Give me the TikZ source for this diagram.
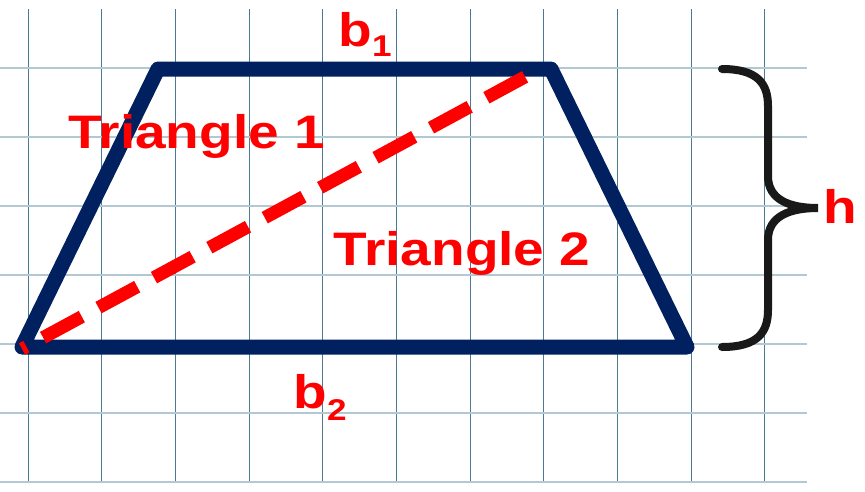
\documentclass[tikz,border=0pt]{standalone}
\usepackage{fontspec}
\newfontfamily\lblfont[FakeStretch=1.17,BoldFont={Liberation Sans Bold}]{Liberation Sans}
\definecolor{mynavy}{rgb}{0,0.125,0.376}
\definecolor{myred}{rgb}{1,0,0}
\definecolor{mybrace}{rgb}{0.1,0.1,0.1}
\definecolor{myvgrid}{rgb}{0.30,0.48,0.58}
\definecolor{myhgrid}{rgb}{0.70,0.79,0.83}

\begin{document}
\begin{tikzpicture}[x=1pt,y=-1pt,
    vline/.style={myvgrid,line width=1pt},
    hline/.style={myhgrid,line width=2pt},
    trap/.style={mynavy,line width=15pt,line join=round,line cap=round},
    diag/.style={myred,line width=13pt,dash pattern=on 44pt off 19pt,dash phase=39pt},
    lbl/.style={text=myred,font=\lblfont\bfseries\fontsize{47}{47}\selectfont,inner sep=0pt,anchor=base}]
  \useasboundingbox (0,0) rectangle (865,491);
  % grid paper
  \foreach \gx in {0,...,10}
    \draw[vline] ({28.3+73.65*\gx},9) -- ({28.3+73.65*\gx},483);
  \foreach \gy in {0,...,6}
    \draw[hline] (0,{68.3+68.95*\gy}) -- (807,{68.3+68.95*\gy});
  % trapezoid
  \coordinate (bl) at (22,347);
  \coordinate (br) at (687,347);
  \coordinate (tr) at (551,69);
  \coordinate (tl) at (158,69);
  \coordinate (dend) at (534,72);
  \draw[trap] (bl) -- (br) -- (tr) -- (tl) -- cycle;
  \draw[diag] (22,349) -- (dend);
  % labels
  \node[lbl] (tri1) at (196.5,148) {Triangle 1};
  \node[lbl] (tri2) at (462,265) {Triangle 2};
  \node[lbl] (bone) at (365,46.7) {b\raisebox{-10pt}{\fontsize{30}{30}\selectfont 1}};
  \node[lbl] (btwo) at (320,408) {b\raisebox{-12pt}{\fontsize{30}{30}\selectfont 2}};
  \node[lbl] (hgt) at (840,223.3) {h};
  % height brace
  \draw[mybrace,line width=8pt,line cap=round]
    (722,69) .. controls (758,69) and (768,84) .. (768,106) -- (768,176)
    .. controls (768,200) and (790,208) .. (818,208)
    .. controls (790,208) and (768,216) .. (768,240) -- (768,310)
    .. controls (768,332) and (758,347) .. (722,347);
\end{tikzpicture}
\end{document}
